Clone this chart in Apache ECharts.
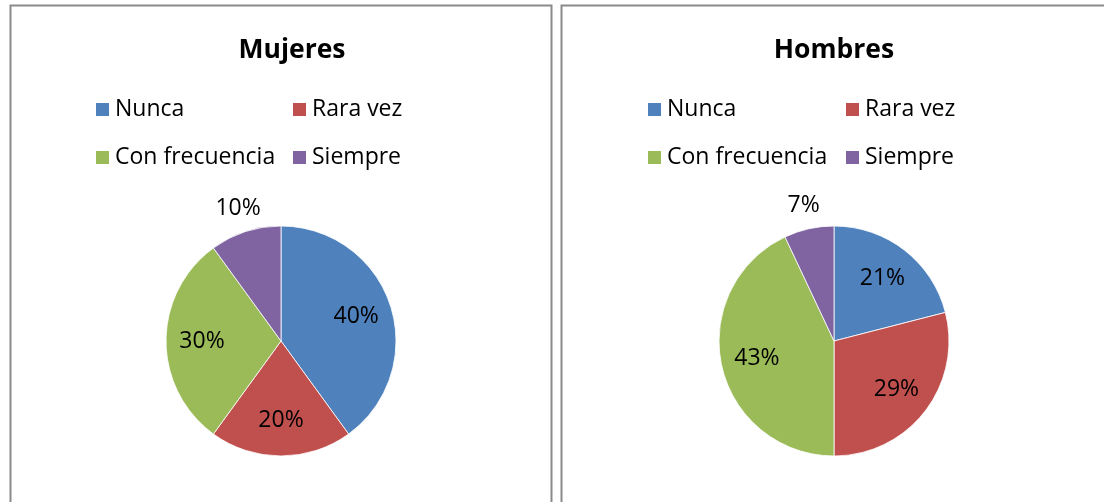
<!DOCTYPE html>
<html>
<head>
<meta charset="utf-8">
<script src="https://cdn.jsdelivr.net/npm/echarts@6/dist/echarts.min.js"></script>
<style>
  html, body { margin: 0; padding: 0; background: #fff; }
  #chart { width: 1104px; height: 502px; }
</style>
</head>
<body>
<div id="chart"></div>
<script>
// categorías y valores (%)
const categories = ['Nunca', 'Rara vez', 'Con frecuencia', 'Siempre']
const mujeres = [40, 20, 30, 10]
const hombres = [21, 29, 43, 7]
const colors = ['#4F81BD', '#C0504D', '#9BBB59', '#8064A2']

const FONT = '"Open Sans", sans-serif'
const chart = echarts.init(document.getElementById('chart'))

// panel: x del centro de la tarta, título y columnas de leyenda
const panels = [
  { name: 'Mujeres', data: mujeres, cx: 281, titleX: 292, col1: 94, col2: 291 },
  { name: 'Hombres', data: hombres, cx: 834, titleX: 834, col1: 646, col2: 844 }
]
const CY = 341
const R = 115

function pieSeries(p) {
  const base = {
    type: 'pie',
    center: [p.cx, CY],
    startAngle: 90,
    clockwise: true,
    silent: true,
    animation: false
  }
  const labelStyle = { position: 'inside', fontFamily: FONT, fontSize: 23, color: '#000', formatter: '{c}%' }
  // tarta visible, sin etiquetas
  const main = Object.assign({}, base, {
    name: p.name,
    radius: [0, R],
    label: { show: false },
    labelLine: { show: false },
    itemStyle: { borderColor: '#fff', borderWidth: 0.8 },
    data: categories.map((c, i) => ({ name: c, value: p.data[i], itemStyle: { color: colors[i] } }))
  })
  // etiquetas interiores (anillo transparente)
  const inner = Object.assign({}, base, {
    radius: [60, 92],
    itemStyle: { color: 'transparent' },
    label: labelStyle,
    labelLine: { show: false },
    data: categories.map((c, i) => ({ name: c, value: p.data[i], label: { show: i !== 3 } }))
  })
  // etiqueta exterior de la porción pequeña
  const outer = Object.assign({}, base, {
    radius: [120, 152],
    itemStyle: { color: 'transparent' },
    label: labelStyle,
    labelLine: { show: false },
    data: categories.map((c, i) => ({ name: c, value: p.data[i], label: { show: i === 3 } }))
  })
  return [main, inner, outer]
}

function legends(p) {
  const common = {
    orient: 'vertical',
    top: 97,
    padding: 0,
    itemWidth: 15,
    itemHeight: 15,
    itemGap: 23,
    icon: 'rect',
    selectedMode: false,
    textStyle: { fontFamily: FONT, fontSize: 23, lineHeight: 25, color: '#000' }
  }
  return [
    Object.assign({}, common, { left: p.col1, data: [categories[0], categories[2]] }),
    Object.assign({}, common, { left: p.col2, data: [categories[1], categories[3]] })
  ]
}

const option = {
  backgroundColor: '#fff',
  color: colors,
  legend: panels.flatMap(legends),
  series: panels.flatMap(pieSeries),
  graphic: [
    // marcos de los paneles
    { type: 'rect', shape: { x: 10.5, y: 5.5, width: 541, height: 520 }, style: { fill: 'none', stroke: '#8a8a8a', lineWidth: 2 }, silent: true },
    { type: 'rect', shape: { x: 561.5, y: 5.5, width: 560, height: 520 }, style: { fill: 'none', stroke: '#8a8a8a', lineWidth: 2 }, silent: true },
    // títulos
    ...panels.map(p => ({
      type: 'text',
      x: p.titleX,
      y: 50,
      silent: true,
      style: {
        text: p.name,
        fontFamily: FONT,
        fontWeight: 'bold',
        fontSize: 26.5,
        fill: '#000',
        align: 'center',
        verticalAlign: 'middle'
      }
    }))
  ]
}

chart.setOption(option)
</script>
</body>
</html>
